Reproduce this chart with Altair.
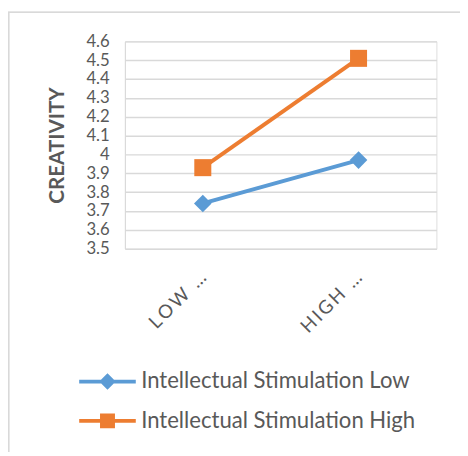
import altair as alt
import pandas as pd

levels = ["LOW …", "HIGH …"]
series_names = ["Intellectual Stimulation Low", "Intellectual Stimulation High"]
low_values = [3.74, 3.97]
high_values = [3.93, 4.51]
y_ticks = [3.5, 3.6, 3.7, 3.8, 3.9, 4.0, 4.1, 4.2, 4.3, 4.4, 4.5, 4.6]
colors = ["#5B9BD5", "#ED7D31"]
marker_shapes = ["diamond", "square"]

rows = []
for lv, v in zip(levels, low_values):
    rows.append({"level": lv, "series": series_names[0], "value": v})
for lv, v in zip(levels, high_values):
    rows.append({"level": lv, "series": series_names[1], "value": v})
df = pd.DataFrame(rows)

FONT = "Lato"
GRAY = "#595959"

x_enc = alt.X("level:N", sort=levels,
              scale=alt.Scale(paddingInner=0, paddingOuter=0),
              axis=alt.Axis(title=None, labelAngle=-45, labelAlign="right",
                            labelBaseline="middle", labelPadding=26,
                            labelFont=FONT, labelFontSize=19, labelColor=GRAY,
                            labelExpr="join(split(datum.label, ''), '\u2009')",
                            ticks=False, domain=False, grid=False))
y_enc = alt.Y("value:Q", scale=alt.Scale(domain=[3.5, 4.6], nice=False, zero=False),
              axis=alt.Axis(title="CREATIVITY", values=y_ticks, format=".1~f",
                            labelFont=FONT, labelFontSize=17, labelColor=GRAY,
                            labelPadding=16, ticks=False,
                            domain=True, domainColor="#d9d9d9", domainWidth=1,
                            grid=True, gridColor="#d9d9d9", gridWidth=1.5,
                            titleFont=FONT, titleFontSize=21, titleFontWeight="bold",
                            titleColor=GRAY, titlePadding=19,
                            labelOverlap=False))

layers = []
for name, col, shp, sz in zip(series_names, colors, marker_shapes, [320, 300]):
    base = alt.Chart(df).transform_filter(alt.datum.series == name)
    layers.append(base.mark_line(strokeWidth=4, color=col).encode(x=x_enc, y=y_enc))
    layers.append(base.mark_point(shape=shp, filled=True, size=sz, opacity=1,
                                  color=col).encode(x=x_enc, y=y_enc))

diamond_path = "M-3.6,-0.25H3.6V0.25H-3.6Z M0,-1.05L1.05,0L0,1.05L-1.05,0Z"
square_path = "M-3.6,-0.25H3.6V0.25H-3.6Z M-0.95,-0.95H0.95V0.95H-0.95Z"

legend = alt.Legend(title=None, orient="none", legendX=-29, legendY=335,
                    direction="vertical", symbolSize=256, symbolStrokeWidth=0,
                    labelFont=FONT, labelFontSize=22.5, labelColor=GRAY,
                    labelOffset=23, labelLimit=0, rowPadding=17, padding=0)

legend_layer = alt.Chart(df).transform_filter("false").mark_point(
    filled=True, opacity=1
).encode(
    x=x_enc, y=y_enc,
    fill=alt.Fill("series:N", scale=alt.Scale(domain=series_names, range=colors),
                  legend=legend),
    shape=alt.Shape("series:N", scale=alt.Scale(domain=series_names,
                                                range=[diamond_path, square_path]),
                    legend=legend),
)

frame_top = alt.Chart(df).mark_rule(color="#d9d9d9", strokeWidth=1.5).encode(
    x=alt.value(-119), x2=alt.value(341), y=alt.value(-29.5))
frame_left = alt.Chart(df).mark_rule(color="#d9d9d9", strokeWidth=1.5).encode(
    x=alt.value(-118.5), y=alt.value(-30), y2=alt.value(418))

chart = alt.layer(frame_top, frame_left, *layers, legend_layer).properties(
    width=317, height=211,
    autosize=alt.AutoSizeParams(type="none"),
    padding={"left": 119, "top": 30, "right": 24, "bottom": 207},
).configure_view(stroke=None).configure(background="white")

chart.save("out.html", embed_options={"renderer": "svg", "actions": False})
